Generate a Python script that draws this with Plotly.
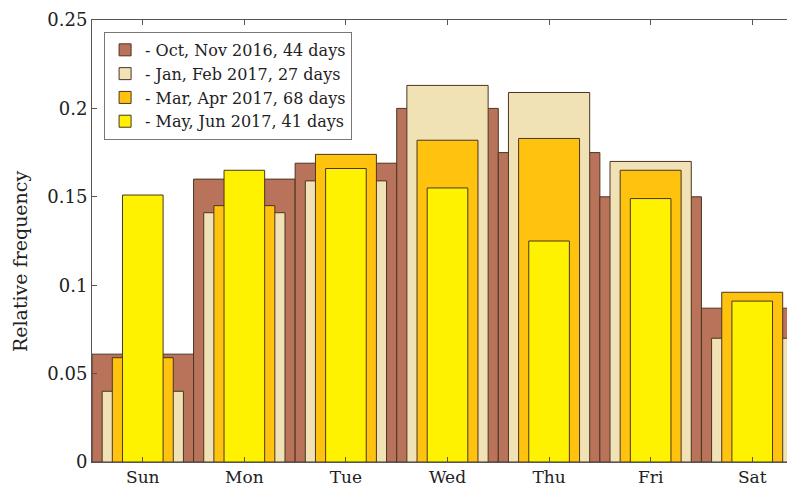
import plotly.graph_objects as go

days = ['Sun', 'Mon', 'Tue', 'Wed', 'Thu', 'Fri', 'Sat']

oct_nov_2016 = [0.061, 0.160, 0.169, 0.200, 0.175, 0.150, 0.087]
jan_feb_2017 = [0.040, 0.141, 0.159, 0.213, 0.209, 0.170, 0.070]
mar_apr_2017 = [0.059, 0.145, 0.174, 0.182, 0.183, 0.165, 0.096]
may_jun_2017 = [0.151, 0.165, 0.166, 0.155, 0.125, 0.149, 0.091]

series_names = [
    '- Oct, Nov 2016, 44 days',
    '- Jan, Feb 2017, 27 days',
    '- Mar, Apr 2017, 68 days',
    '- May, Jun 2017, 41 days',
]

y_ticks = [0, 0.05, 0.1, 0.15, 0.2, 0.25]
y_tick_labels = ['0', '0.05', '0.1', '0.15', '0.2', '0.25']

series = [oct_nov_2016, jan_feb_2017, mar_apr_2017, may_jun_2017]
colors = ['#b8735a', '#f0e2b4', '#ffc20e', '#fff200']
widths = [1.0, 0.8, 0.6, 0.4]

x = list(range(len(days)))

fig = go.Figure()

for idx, values in enumerate(series):
    fig.add_trace(go.Bar(
        x=x,
        y=values,
        name=series_names[idx],
        width=widths[idx],
        marker={'color': colors[idx], 'line': {'color': '#4a3522', 'width': 1}},
    ))

# y label sits a bit below the axis middle in the original
fig.add_annotation(
    text='Relative frequency',
    xref='paper', yref='paper',
    x=-0.101, y=0.455,
    xanchor='center', yanchor='middle',
    textangle=-90,
    showarrow=False,
    font={'size': 19},
)

# the page body adds an 8px offset, so margins are shifted to compensate
fig.update_layout(
    width=795,
    height=496,
    barmode='overlay',
    plot_bgcolor='white',
    paper_bgcolor='white',
    font={'family': 'DejaVu Serif', 'color': '#222222', 'size': 17},
    margin=dict(l=84, r=0, t=12, b=42),
    xaxis=dict(
        range=[-0.5, 6.5],
        tickvals=x,
        ticktext=days,
        showline=True,
        linecolor='#555555',
        linewidth=1,
        mirror='ticks',
        ticks='inside',
        ticklen=5,
        tickcolor='#555555',
        showgrid=False,
        zeroline=False,
        automargin=False,
        tickfont={'size': 17},
    ),
    yaxis=dict(
        range=[0, 0.25],
        tickvals=y_ticks,
        ticktext=y_tick_labels,
        showline=True,
        linecolor='#555555',
        linewidth=1,
        ticks='inside',
        ticklen=5,
        tickcolor='#555555',
        showgrid=False,
        zeroline=False,
        automargin=False,
        tickfont={'size': 18},
    ),
    legend=dict(
        x=0.017,
        y=0.973,
        xanchor='left',
        yanchor='top',
        bordercolor='#777777',
        borderwidth=1,
        bgcolor='white',
        font={'size': 16},
        itemwidth=30,
    ),
)

fig.write_html("out.html")
